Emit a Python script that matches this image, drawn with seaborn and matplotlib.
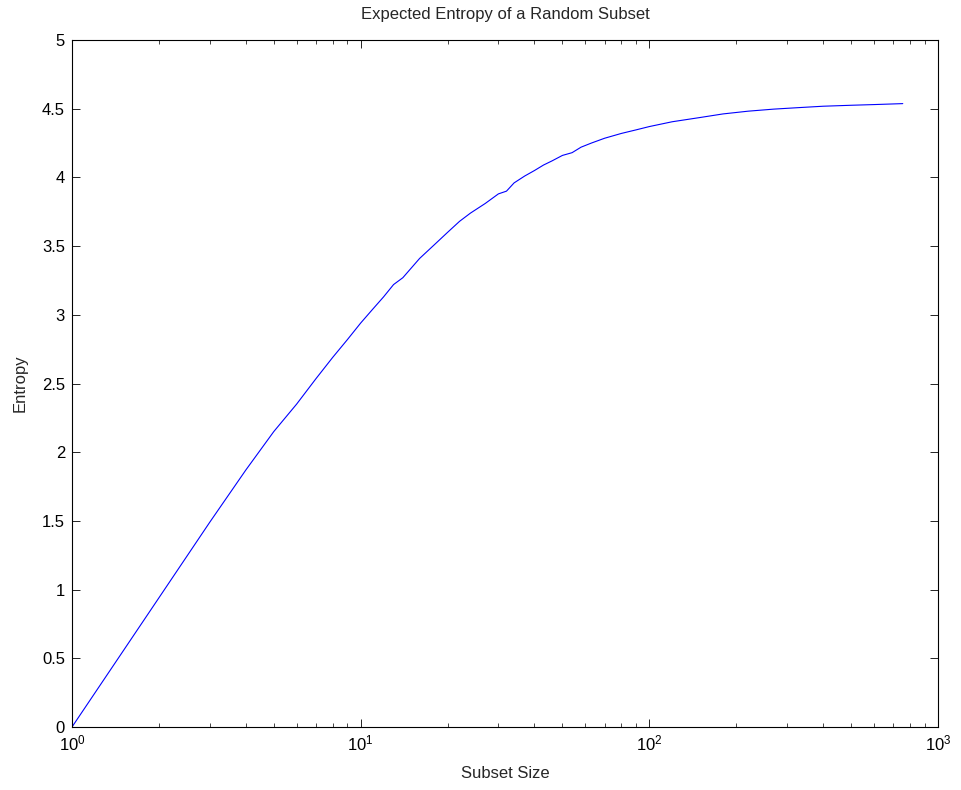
import matplotlib
matplotlib.use("Agg")
import matplotlib.pyplot as plt
import seaborn as sns
import pandas as pd
from matplotlib.ticker import LogLocator, FixedLocator, FixedFormatter

# Subset sizes and the expected entropy measured at each size
subset_size = [1, 2, 3, 4, 5, 6, 7, 8, 9, 10, 11, 12, 13, 14, 16, 18, 20, 22,
               24, 27, 30, 32, 34, 37, 40, 43, 46, 50, 54, 58, 63, 70, 80, 90,
               100, 120, 150, 180, 220, 270, 330, 400, 500, 600, 755]
entropy = [0.0, 0.94, 1.49, 1.87, 2.15, 2.35, 2.535, 2.69, 2.82, 2.94, 3.04,
           3.13, 3.22, 3.27, 3.41, 3.51, 3.60, 3.68, 3.74, 3.81, 3.88, 3.90,
           3.96, 4.01, 4.05, 4.09, 4.12, 4.16, 4.18, 4.22, 4.25, 4.285, 4.32,
           4.346, 4.37, 4.405, 4.436, 4.462, 4.482, 4.497, 4.508, 4.518,
           4.525, 4.530, 4.537]

y_ticks = [0, 0.5, 1, 1.5, 2, 2.5, 3, 3.5, 4, 4.5, 5]
y_tick_labels = ["0", "0.5", "1", "1.5", "2", "2.5", "3", "3.5", "4", "4.5", "5"]

title = "Expected Entropy of a Random Subset"
x_label = "Subset Size"
y_label = "Entropy"

sns.set_theme(style="white")
plt.rcParams["font.family"] = ["Liberation Sans", "DejaVu Sans"]
plt.rcParams["mathtext.fontset"] = "custom"
plt.rcParams["mathtext.rm"] = "Liberation Sans"
plt.rcParams["mathtext.default"] = "regular"

df = pd.DataFrame({"size": subset_size, "entropy": entropy})

fig = plt.figure(figsize=(9.62, 7.90), dpi=100)
ax = fig.add_axes([72 / 962, 63 / 790, (938 - 72) / 962, (727 - 40) / 790])

sns.lineplot(data=df, x="size", y="entropy", ax=ax, color="#0000ff",
             linewidth=0.8, estimator=None, sort=False)

ax.set_xscale("log")
ax.set_xlim(1, 1000)
ax.set_ylim(0, 5)

ax.xaxis.set_major_locator(LogLocator(base=10, numticks=10))
ax.xaxis.set_minor_locator(LogLocator(base=10, subs=range(2, 10), numticks=20))
ax.yaxis.set_major_locator(FixedLocator(y_ticks))
ax.yaxis.set_major_formatter(FixedFormatter(y_tick_labels))

for side in ax.spines.values():
    side.set_visible(True)
    side.set_color("black")
    side.set_linewidth(0.8)

ax.tick_params(which="major", direction="in", length=6, width=0.6,
               top=True, right=True, bottom=True, left=True,
               labelsize=12, colors="black", pad=5)
ax.tick_params(which="minor", direction="in", length=3, width=0.6,
               top=True, right=True, bottom=True, left=False)

ax.set_title(title, fontsize=12, pad=15)
ax.set_xlabel(x_label, fontsize=12, labelpad=9)
ax.set_ylabel(y_label, fontsize=12, labelpad=10)

ax.set_facecolor("white")
fig.patch.set_facecolor("white")

fig.savefig("out.png", dpi=100)
